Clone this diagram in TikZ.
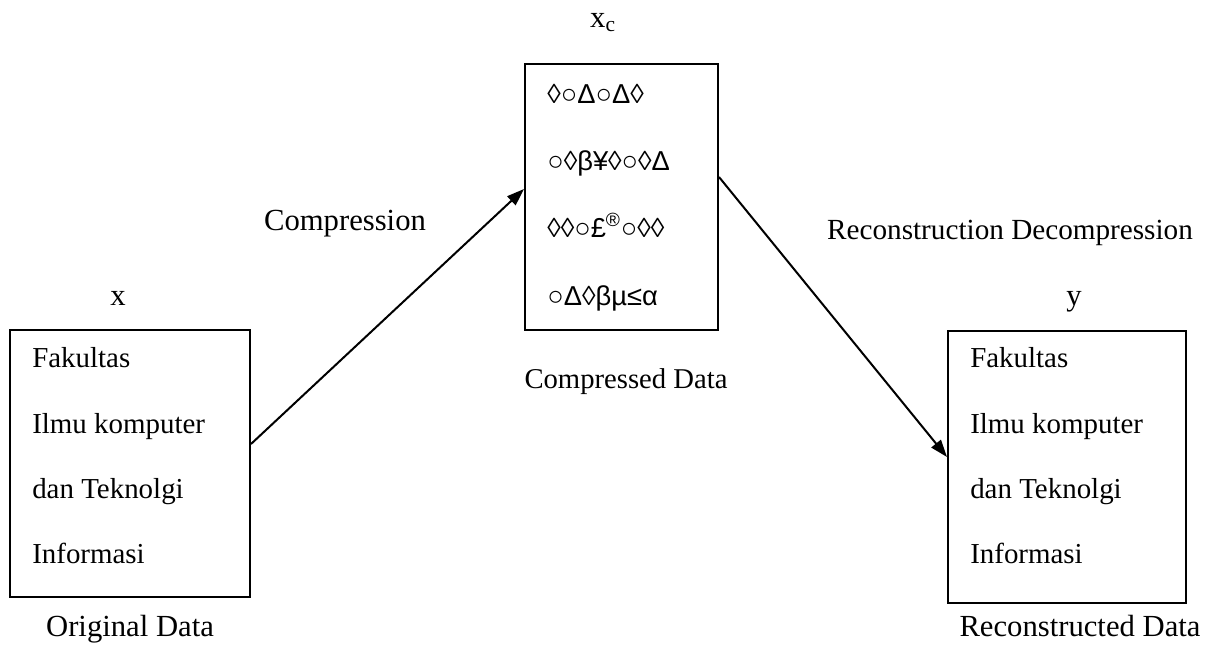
\documentclass[tikz,border=0pt]{standalone}
\usepackage{fontspec}
\setmainfont{Liberation Serif}
\newfontfamily\symfont{Liberation Sans}
\usetikzlibrary{arrows.meta,calc}
\begin{document}
\begin{tikzpicture}[x=0.75pt,y=-0.75pt,
  databox/.style={draw,line width=1.5pt,inner sep=0pt},
  lbl/.style={anchor=base,inner sep=0pt,font=\fontsize{23}{27}\selectfont},
  line/.style={anchor=base west,inner sep=0pt,font=\fontsize{21.7}{26}\selectfont},
  sym/.style={anchor=base west,inner sep=0pt,font=\symfont\fontsize{20.5}{24}\selectfont},
  flow/.style={line width=1.5pt,-{Triangle[length=13pt,width=9pt]}}]
\useasboundingbox (0,0) rectangle (1206,644);

% three data boxes
\node[databox,minimum width=180pt,minimum height=200.25pt] (orig) at (130,463.5) {};
\node[databox,minimum width=144.75pt,minimum height=199.5pt] (comp) at (621.5,197) {};
\node[databox,minimum width=178.5pt,minimum height=204pt] (recon) at (1067,467) {};

% labels around the boxes
\node[lbl] (lx) at (118,305) {x};
\node[lbl] (lorig) at (130,636) {Original Data};
\node[lbl] (lxc) at (603,27) {x\textsubscript{c}};
\node[lbl,font=\fontsize{21.5}{26}\selectfont] (lcomp) at (626,388) {Compressed Data};
\node[lbl] (ly) at (1074,305) {y};
\node[lbl] (lrecon) at (1080,636) {Reconstructed Data};
\node[lbl] (lcompr) at (345,230) {Compression};
\node[lbl,font=\fontsize{21.9}{26}\selectfont] (ldecomp) at (1010,239) {Reconstruction Decompression};

% original text
\node[line] (o1) at (32,367) {Fakultas};
\node[line] (o2) at (32,433) {Ilmu komputer};
\node[line] (o3) at (32,498) {dan Teknolgi};
\node[line] (o4) at (32,563) {Informasi};

% compressed symbols
\node[sym] (c1) at (547,103) {◊○Δ○Δ◊};
\node[sym] (c2) at (547,170) {○◊β¥◊○◊Δ};
\node[sym] (c3) at (547,237) {◊◊○£\textsuperscript{®}○◊◊};
\node[sym] (c4) at (547,305) {○Δ◊βµ≤α};

% reconstructed text
\node[line] (r1) at (970,367) {Fakultas};
\node[line] (r2) at (970,433) {Ilmu komputer};
\node[line] (r3) at (970,498) {dan Teknolgi};
\node[line] (r4) at (970,563) {Informasi};

% connectors
\draw[flow] ($(orig.north east)+(0,115)$) -- ($(comp.north west)+(0,126)$);
\draw[flow] ($(comp.north east)+(0,114)$) -- ($(recon.north west)+(0,127)$);
\end{tikzpicture}
\end{document}
